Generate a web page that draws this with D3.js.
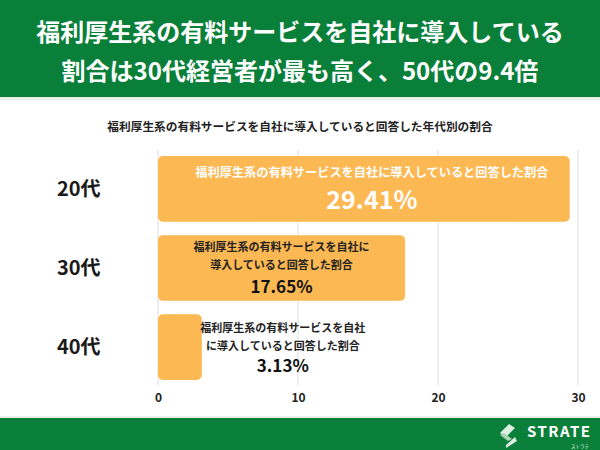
<!DOCTYPE html>
<html><head><meta charset="utf-8">
<script src="https://cdn.jsdelivr.net/npm/d3@7"></script>
<style>body{margin:0;background:#fff}svg{display:block}text{font-family:"Noto Sans CJK JP","Noto Sans",sans-serif}</style>
</head><body><svg id="c" width="600" height="450"></svg>
<script>
const categories = ["20代","30代","40代"];
const values = [29.41, 17.65, 3.13];
const tickValues = [0,10,20,30];
const titleLines = ["福利厚生系の有料サービスを自社に導入している","割合は30代経営者が最も高く、50代の9.4倍"];
const subtitle = "福利厚生系の有料サービスを自社に導入していると回答した年代別の割合";
const barLabelLines = [
  ["福利厚生系の有料サービスを自社に導入していると回答した割合"],
  ["福利厚生系の有料サービスを自社に","導入していると回答した割合"],
  ["福利厚生系の有料サービスを自社","に導入していると回答した割合"]
];

const svg = d3.select("#c");
const green = "#0a7f3a";
svg.append("rect").attr("x",0).attr("y",0).attr("width",600).attr("height",97).attr("fill",green);
svg.append("rect").attr("x",0).attr("y",97).attr("width",600).attr("height",3).attr("fill","#e9efe9");
svg.selectAll("text.title").data(titleLines).join("text")
  .attr("x",300).attr("y",(d,i)=>41+i*39).attr("text-anchor","middle")
  .attr("fill","#fff").attr("font-size",24).attr("font-weight","bold").text(d=>d);

svg.append("text").attr("x",300).attr("y",131).attr("text-anchor","middle")
  .attr("font-size",11.7).attr("font-weight","bold").attr("fill","#222").text(subtitle);

const x = d3.scaleLinear().domain([0,30]).range([158,578]);
const y = d3.scaleBand().domain(categories).range([148,388]).paddingInner(0.17).paddingOuter(0.1);

// gridlines
svg.append("g").selectAll("line").data(tickValues).join("line")
  .attr("x1",d=>x(d)).attr("x2",d=>x(d)).attr("y1",150).attr("y2",385)
  .attr("stroke","#dcdcdc").attr("stroke-width",1);

// bars
svg.append("g").selectAll("rect").data(values).join("rect")
  .attr("x",x(0)).attr("y",(d,i)=>y(categories[i]))
  .attr("width",d=>x(d)-x(0)).attr("height",y.bandwidth())
  .attr("rx",5).attr("fill","#fcb852");

// category labels
svg.append("g").selectAll("text").data(categories).join("text")
  .attr("x",57).attr("y",d=>y(d)+y.bandwidth()/2+7).attr("font-size",20).attr("font-weight","bold")
  .attr("fill","#1a1a1a").text(d=>d);

// bar labels
values.forEach((v,i)=>{
  const top = y(categories[i]);
  const g = svg.append("g");
  if(i===0){
    const cx = (x(0)+x(v))/2 + 8;
    g.append("text").attr("x",cx).attr("y",top+21).attr("text-anchor","middle").attr("font-size",12.2)
      .attr("font-weight","bold").attr("fill","#fff").text(barLabelLines[i][0]);
    g.append("text").attr("x",cx).attr("y",top+53).attr("text-anchor","middle").attr("font-size",25)
      .attr("font-weight","bold").attr("fill","#fff").text(v.toFixed(2)+"%");
  } else {
    const cx = i===1 ? (x(0)+x(v))/2 : x(v)+81;
    const dy = i===1 ? 1 : 3;
    barLabelLines[i].forEach((t,j)=>{
      g.append("text").attr("x",cx).attr("y",top+15+dy+j*18).attr("text-anchor","middle").attr("font-size",11)
        .attr("font-weight","bold").attr("fill","#222").text(t);
    });
    g.append("text").attr("x",cx).attr("y",top+58).attr("text-anchor","middle").attr("font-size",17)
      .attr("font-weight","bold").attr("fill","#111").text(v.toFixed(2)+"%");
  }
});

// x axis
const ax = svg.append("g").attr("transform","translate(0,387)")
  .call(d3.axisBottom(x).tickValues(tickValues).tickSize(0).tickPadding(6));
ax.select(".domain").remove();
ax.selectAll("text").attr("font-size",12).attr("font-weight","bold").attr("fill","#222")
  .style("font-family","'Noto Sans CJK JP',sans-serif");

// footer
svg.append("rect").attr("x",0).attr("y",418).attr("width",600).attr("height",32).attr("fill",green);
svg.append("rect").attr("x",0).attr("y",416).attr("width",600).attr("height",2).attr("fill","#e8f0e8");
const lg = svg.append("g").attr("transform","translate(498,424)");
lg.append("path").attr("d","M11,0 L2,9 L8,13 L17,4 Z").attr("fill","#ddeee2");
lg.append("path").attr("d","M2,11 L10,17 L14,15 L6,9 Z").attr("fill","#a9d4b5");
lg.append("path").attr("d","M17,13 L8,21 L8,24 L19,17 Z").attr("fill","#ddeee2");
svg.append("text").attr("x",527).attr("y",437).attr("font-size",15).attr("font-weight","bold")
  .attr("fill","#fff").attr("textLength",63).text("STRATE");
svg.append("text").attr("x",589).attr("y",448).attr("text-anchor","end").attr("font-size",4.5)
  .attr("fill","#fff").text("ストラテ");
</script></body></html>
